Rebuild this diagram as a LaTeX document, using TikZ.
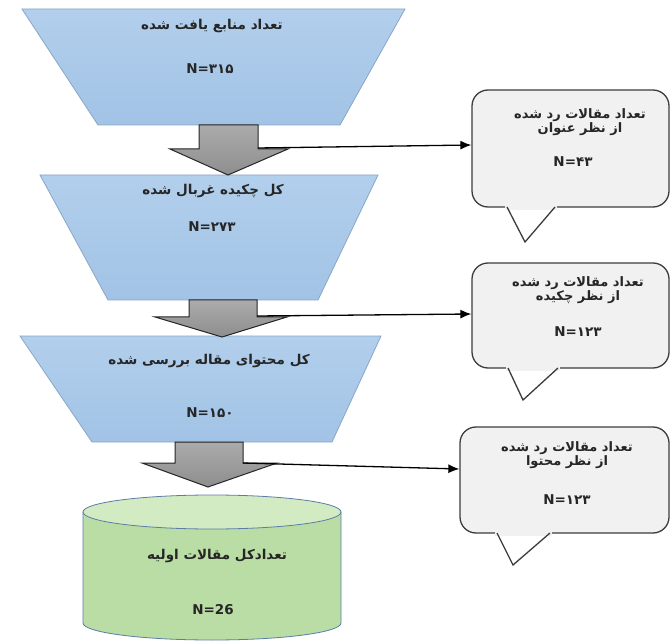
\documentclass[tikz,border=0pt]{standalone}
\usepackage{fontspec}
\TeXXeTstate=1
\newfontfamily\fa[Script=Arabic]{DejaVu Sans}
\usetikzlibrary{arrows.meta}
\definecolor{trapTop}{HTML}{B2CFEC}
\definecolor{trapBot}{HTML}{A2C3E6}
\definecolor{trapLine}{HTML}{8AA6C6}
\definecolor{arrowTop}{HTML}{ABABAB}
\definecolor{arrowBot}{HTML}{8E8E8E}
\definecolor{bubFill}{HTML}{F1F1F1}
\definecolor{bubLine}{HTML}{3C3C3C}
\definecolor{cylFill}{HTML}{B9DDA4}
\definecolor{cylTop}{HTML}{D2EBC3}
\definecolor{cylLine}{HTML}{5C7DA6}
\tikzset{
  trap/.style={draw=trapLine, line width=0.8pt, top color=trapTop, bottom color=trapBot},
  blockarrow/.style={draw=black!85, line width=1pt, top color=arrowTop, bottom color=arrowBot, line join=miter},
  bubblebox/.style={draw=bubLine, line width=1.3pt, fill=bubFill, rounded corners=16pt, inner sep=0pt},
  pointer/.style={draw=bubLine, line width=1.3pt, line join=miter},
  conn/.style={line width=1.3pt, -{Latex[length=11pt,width=9pt]}},
  cyl/.style={draw=cylLine, line width=0.8pt},
  lbl/.style={font=\fontsize{13.5}{15}\selectfont\fa\bfseries, inner sep=0pt, align=center, text=black!85},
  numlbl/.style={font=\fontsize{13.5}{15}\selectfont\fa\bfseries, inner sep=0pt, text=black!85},
  sidelbl/.style={font=\fontsize{13}{14.5}\selectfont\fa\bfseries, inner sep=0pt, align=center, text=black!85},
}
\begin{document}
\begin{tikzpicture}[x=1pt,y=-1pt]
\useasboundingbox (0,0) rectangle (672,644);
\clip (0,0) rectangle (672,644);
\fill[white] (0,0) rectangle (672,644);

% funnel stages
\path[trap] (22,9) -- (405,9) -- (340,125) -- (98,125) -- cycle;
\path[trap] (40,175) -- (378,175) -- (318,300) -- (108,300) -- cycle;
\path[trap] (20,336) -- (381,336) -- (332,442) -- (92,442) -- cycle;

\node[lbl] (t1) at (212,26) {\beginR تعداد منابع یافت شده\endR};
\node[numlbl] (n1) at (210,69) {N=۳۱۵};
\node[lbl] (t2) at (213,191) {\beginR کل چکیده غربال شده\endR};
\node[numlbl] (n2) at (212,227) {N=۲۷۳};
\node[lbl] (t3) at (209,361) {\beginR کل محتوای مقاله بررسی شده\endR};
\node[numlbl] (n3) at (210,413) {N=۱۵۰};

% cylinder
\path[cyl, fill=cylFill] (83,512) -- (83,623) arc[start angle=180, end angle=0, x radius=129, y radius=17] -- (341,512) -- cycle;
\path[cyl, fill=cylTop] (212,512) ellipse[x radius=129, y radius=17];
\node[lbl] (t4) at (217,556) {\beginR تعدادکل مقالات اولیه\endR};
\node[numlbl] (n4) at (213,610) {N=26};

% block arrows
\path[blockarrow] (199,125) -- (258,125) -- (258,149) -- (288,149) -- (228,175) -- (170,149) -- (199,149) -- cycle;
\path[blockarrow] (189,300) -- (257,300) -- (257,317) -- (287,317) -- (222,337) -- (155,317) -- (189,317) -- cycle;
\path[blockarrow] (175,442) -- (243,442) -- (243,463) -- (277,463) -- (208,487) -- (142,463) -- (175,463) -- cycle;
\coordinate (s1) at (258,148);
\coordinate (s2) at (257,316);
\coordinate (s3) at (243,463);

% callout bubbles
\node[bubblebox, minimum width=197pt, minimum height=117pt] (b1) at (570.5,148.5) {};
\fill[bubFill] (505,204) rectangle (557,210);
\draw[pointer] (507,207) -- (525,242) -- (555,207);
\node[sidelbl] (r1) at (580,122) {\beginR تعداد مقالات رد شده\endR\\\beginR از نظر عنوان\endR};
\node[numlbl] (m1) at (573,162) {N=۴۳};

\node[bubblebox, minimum width=197pt, minimum height=105pt] (b2) at (570.5,315.5) {};
\fill[bubFill] (506,365) rectangle (560,371);
\draw[pointer] (508,368) -- (523,400) -- (558,368);
\node[sidelbl] (r2) at (578,290) {\beginR تعداد مقالات رد شده\endR\\\beginR از نظر چکیده\endR};
\node[numlbl] (m2) at (578,332) {N=۱۲۳};

\node[bubblebox, minimum width=209pt, minimum height=106pt] (b3) at (564.5,480) {};
\fill[bubFill] (495,530) rectangle (552,536);
\draw[pointer] (497,533) -- (513,565) -- (550,533);
\node[sidelbl] (r3) at (567,455) {\beginR تعداد مقالات رد شده\endR\\\beginR از نظر محتوا\endR};
\node[numlbl] (m3) at (567,500) {N=۱۲۳};

% connectors
\draw[conn] (s1) -- ([yshift=3.5pt]b1.west);
\draw[conn] (s2) -- ([yshift=1.5pt]b2.west);
\draw[conn] (s3) -- ([yshift=11pt]b3.west);
\end{tikzpicture}
\end{document}
